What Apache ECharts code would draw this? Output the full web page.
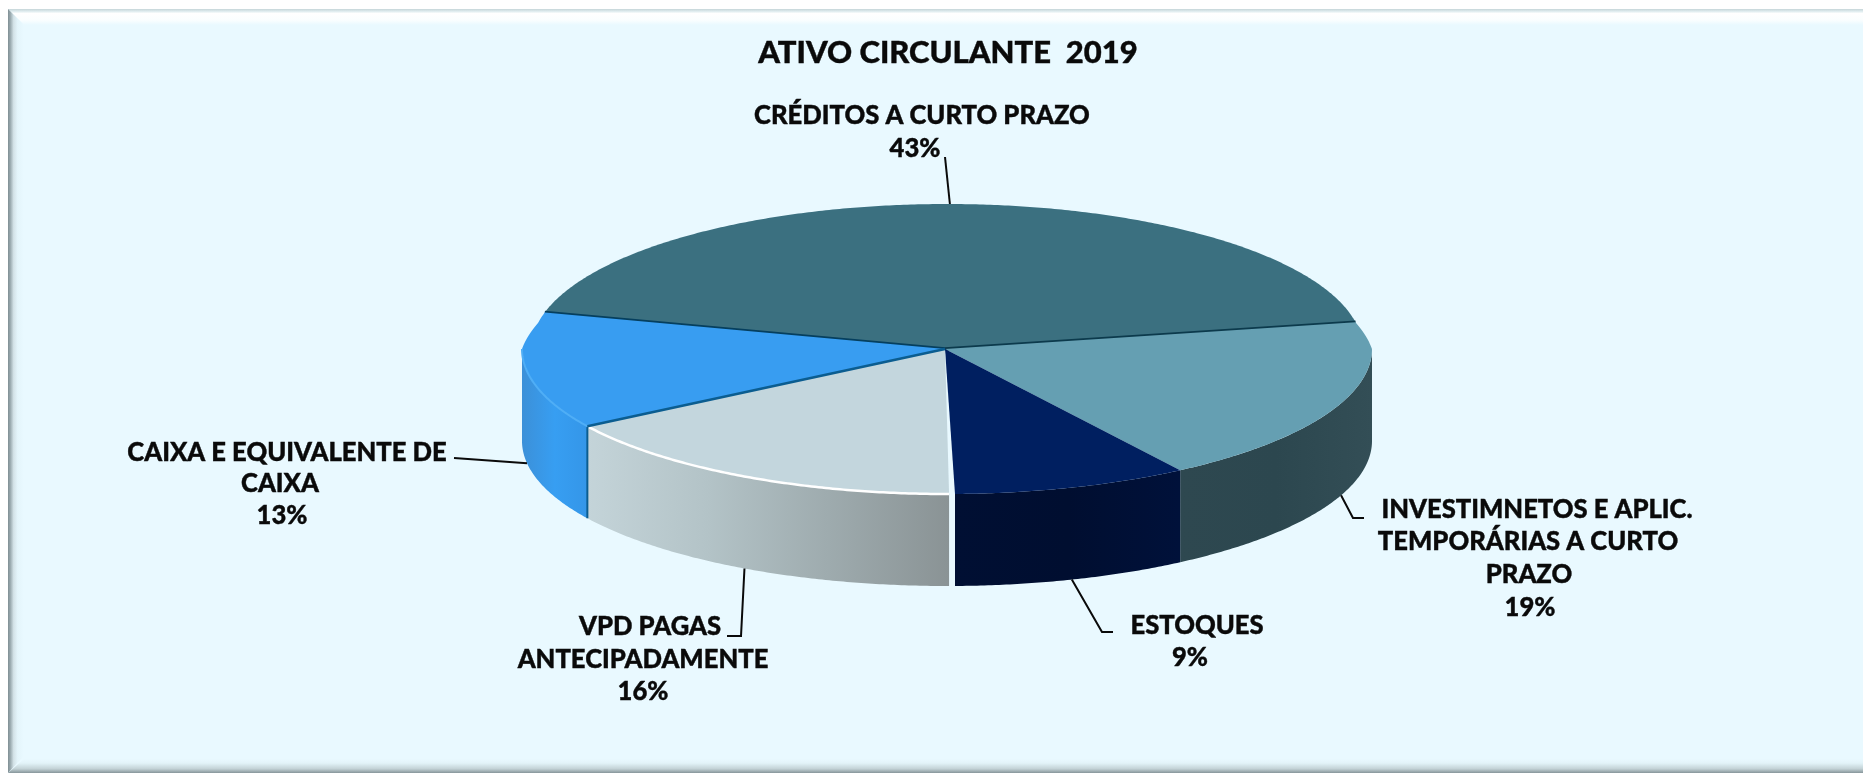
<!DOCTYPE html>
<html>
<head>
<meta charset="utf-8">
<style>html,body{margin:0;padding:0;background:#fff}#c{width:1863px;height:773px}</style>
<script src="https://cdn.jsdelivr.net/npm/echarts@6/dist/echarts.min.js"></script>
</head>
<body>
<div id="c"></div>
<script>
// ---- data ----
const titleText = 'ATIVO CIRCULANTE  2019';
const categories = [
  'CRÉDITOS A CURTO PRAZO',
  'INVESTIMNETOS E APLIC.\nTEMPORÁRIAS A CURTO\nPRAZO',
  'ESTOQUES',
  'VPD PAGAS\nANTECIPADAMENTE',
  'CAIXA E EQUIVALENTE DE\nCAIXA'
];
const values = [43, 18.7, 9, 16.3, 13];

// ---- geometry of the tilted pie ----
const pie = { cx: 947, cy: 349, rx: 425, ry: 145, depth: 92, start: 284.6, backInset: 0.022, backInsetFrom: 0.18 };
const total = values.reduce((a, b) => a + b, 0);

// ---- styles ----
const BG = '#E9F9FF';
const INK = '#0A0A0A';
const FONT = 'Lato';
const sliceStyles = [
  { top: '#3B7080', edges: [['#053F5E', 3.5, 'start'], ['#0C3A4C', 3.5, 'end']] },
  { top: '#659FB2', wall: ['#2E4850', '#2C474F', '#334E56'] },
  { top: '#001F60', wall: ['#000F33', '#000E30', '#00113A'], endTrim: 0.2 },
  { top: '#C3D6DD', wall: ['#C4D4D9', '#B3C3C7', '#9EABAE', '#8A9395'], rim: '#FFFFFF', rimW: 2.5, startTrim: 0.6 },
  { top: '#389DF1', wall: ['#3C90D8', '#379EF2', '#3496E8'], rim: '#4FAEF6', rimW: 2,
    edges: [['#0B5D90', 2.5, 'start']], wallEdge: '#0B5D90' }
];
// label layout: centre of every text line, and the bend points of the leader
const labelLayout = [
  { lines: [[922, 116], [915, 149]], leader: [[945, 157]], onTop: true, shift: -1.6 },
  { lines: [[1537, 510], [1528, 542], [1529, 575], [1530, 608]], leader: [[1364, 518], [1353, 518]], shift: -1.05 },
  { lines: [[1197, 626], [1190, 658]], leader: [[1113, 632], [1102, 632]] },
  { lines: [[650, 627], [643, 660], [643, 692]], leader: [[727, 636], [741, 636]] },
  { lines: [[287, 453], [280, 484], [282, 516]], leader: [[454, 458]] }
];
const labelFont = { size: 25.6 };

function pt(a, dy) {
  const r = a * Math.PI / 180, c = Math.cos(r);
  // the back of the disc sits slightly inside its ellipse (bevelled rim)
  const inset = c > 0 ? 1 - pie.backInset * Math.min(1, c / pie.backInsetFrom) : 1;
  const k = dy ? 1 : inset;
  return [pie.cx + pie.rx * k * Math.sin(r), pie.cy - pie.ry * c + (dy || 0)];
}
function arc(a0, a1, dy) {
  const out = [], n = Math.max(2, Math.ceil(Math.abs(a1 - a0) * 2));
  for (let i = 0; i <= n; i++) out.push(pt(a0 + (a1 - a0) * i / n, dy));
  return out;
}
function sliceAngles(i) {
  let s = 0;
  for (let k = 0; k < i; k++) s += values[k];
  return [pie.start + s / total * 360, pie.start + (s + values[i]) / total * 360];
}
function frontPart(a0, a1) {
  for (const [f0, f1] of [[90, 270], [450, 630]]) {
    const p0 = Math.max(a0, f0), p1 = Math.min(a1, f1);
    if (p1 > p0) return [p0, p1];
  }
  return null;
}
function gradient(colors, x0, x1) {
  return new echarts.graphic.LinearGradient(x0, 0, x1, 0,
    colors.map((c, i) => ({ offset: i / (colors.length - 1), color: c })), true);
}

function renderSlice(params, api) {
  const i = params.dataIndex, st = sliceStyles[i], lay = labelLayout[i];
  const v = api.value(0);
  const [a0, a1] = sliceAngles(i);
  const s0 = a0 + (st.startTrim || 0), s1 = a1 - (st.endTrim || 0);
  const kids = [];
  const front = frontPart(s0, s1);
  if (front) {
    const top = arc(front[0], front[1], 0), bot = arc(front[1], front[0], pie.depth);
    const xs = top.map(p => p[0]);
    kids.push({ type: 'polygon', shape: { points: top.concat(bot) },
      style: { fill: gradient(st.wall, Math.min(...xs), Math.max(...xs)), stroke: null } });
    if (st.wallEdge) {
      kids.push({ type: 'polyline', shape: { points: [pt(front[0], 0), pt(front[0], pie.depth)] },
        style: { stroke: st.wallEdge, lineWidth: 2, fill: null } });
    }
  }
  kids.push({ type: 'polygon',
    shape: { points: [[pie.cx - 2, pie.cy]].concat(arc(s0, s1, 0)) },
    style: { fill: st.top, stroke: null } });
  if (st.rim && front) {
    kids.push({ type: 'polyline', shape: { points: arc(front[0], front[1], 0) },
      style: { stroke: st.rim, lineWidth: st.rimW, fill: null } });
  }
  (st.edges || []).forEach(([color, w, which]) => kids.push({ type: 'polyline',
    shape: { points: [[pie.cx - 2, pie.cy], pt(which === 'start' ? a0 : a1, 0)] },
    style: { stroke: color, lineWidth: w, fill: null } }));
  // leader, anchored on the rim at the slice's middle angle
  const mid = (a0 + a1) / 2 + (lay.shift || 0);
  const anchor = pt(mid, lay.onTop ? 0 : pie.depth);
  kids.push({ type: 'polyline', z2: 50, shape: { points: lay.leader.concat([anchor]) },
    style: { stroke: INK, lineWidth: 2, fill: null } });
  // text
  const lines = categories[i].split('\n').concat([Math.round(v) + '%']);
  lines.forEach((t, k) => kids.push({ type: 'text', z2: 60,
    style: { text: t, x: lay.lines[k][0], y: lay.lines[k][1], align: 'center', verticalAlign: 'middle',
      fill: INK, stroke: INK, lineWidth: 0.4, fontFamily: FONT, fontWeight: 900, fontSize: labelFont.size } }));
  return { type: 'group', children: kids };
}

const frame = [
  { type: 'rect', shape: { x: 8, y: 9, width: 1855, height: 764 }, style: { fill: BG } },
  { type: 'polygon', shape: { points: [[8, 9], [1863, 9], [1863, 25], [24, 25]] },
    style: { fill: new echarts.graphic.LinearGradient(0, 0, 0, 1, [
      { offset: 0, color: '#C6D5D8' }, { offset: 0.14, color: '#DDEBEE' }, { offset: 0.28, color: '#FFFFFF' },
      { offset: 0.7, color: '#FAFEFF' }, { offset: 1, color: BG }]) } },
  { type: 'polygon', shape: { points: [[8, 9], [24, 25], [24, 756], [8, 773]] },
    style: { fill: new echarts.graphic.LinearGradient(0, 0, 1, 0, [
      { offset: 0, color: '#7F8E93' }, { offset: 0.15, color: '#9BABB0' }, { offset: 0.35, color: '#D3E2E7' },
      { offset: 0.6, color: '#E4F5FB' }, { offset: 1, color: BG }]) } },
  { type: 'polygon', shape: { points: [[8, 773], [24, 759], [1863, 759], [1863, 773]] },
    style: { fill: new echarts.graphic.LinearGradient(0, 0, 0, 1, [
      { offset: 0, color: BG }, { offset: 0.3, color: '#E2F3F8' }, { offset: 0.7, color: '#C3D2D6' },
      { offset: 1, color: '#86959A' }]) } }
];

const chart = echarts.init(document.getElementById('c'), null, { renderer: 'canvas' });
chart.setOption({
  animation: false,
  backgroundColor: '#FFFFFF',
  title: { text: titleText, left: 943, top: 32, textAlign: 'center',
    textStyle: { fontFamily: FONT, fontWeight: 900, fontSize: 31, color: INK, textBorderColor: INK, textBorderWidth: 0.4 } },
  graphic: { elements: frame.map(e => Object.assign({ silent: true, z: -10 }, e)) },
  series: [{
    type: 'custom',
    coordinateSystem: 'none',
    silent: true,
    renderItem: renderSlice,
    data: values.map((v, i) => ({ name: categories[i].replace(/\n/g, ' '), value: [v] }))
  }]
});
</script>
</body>
</html>
